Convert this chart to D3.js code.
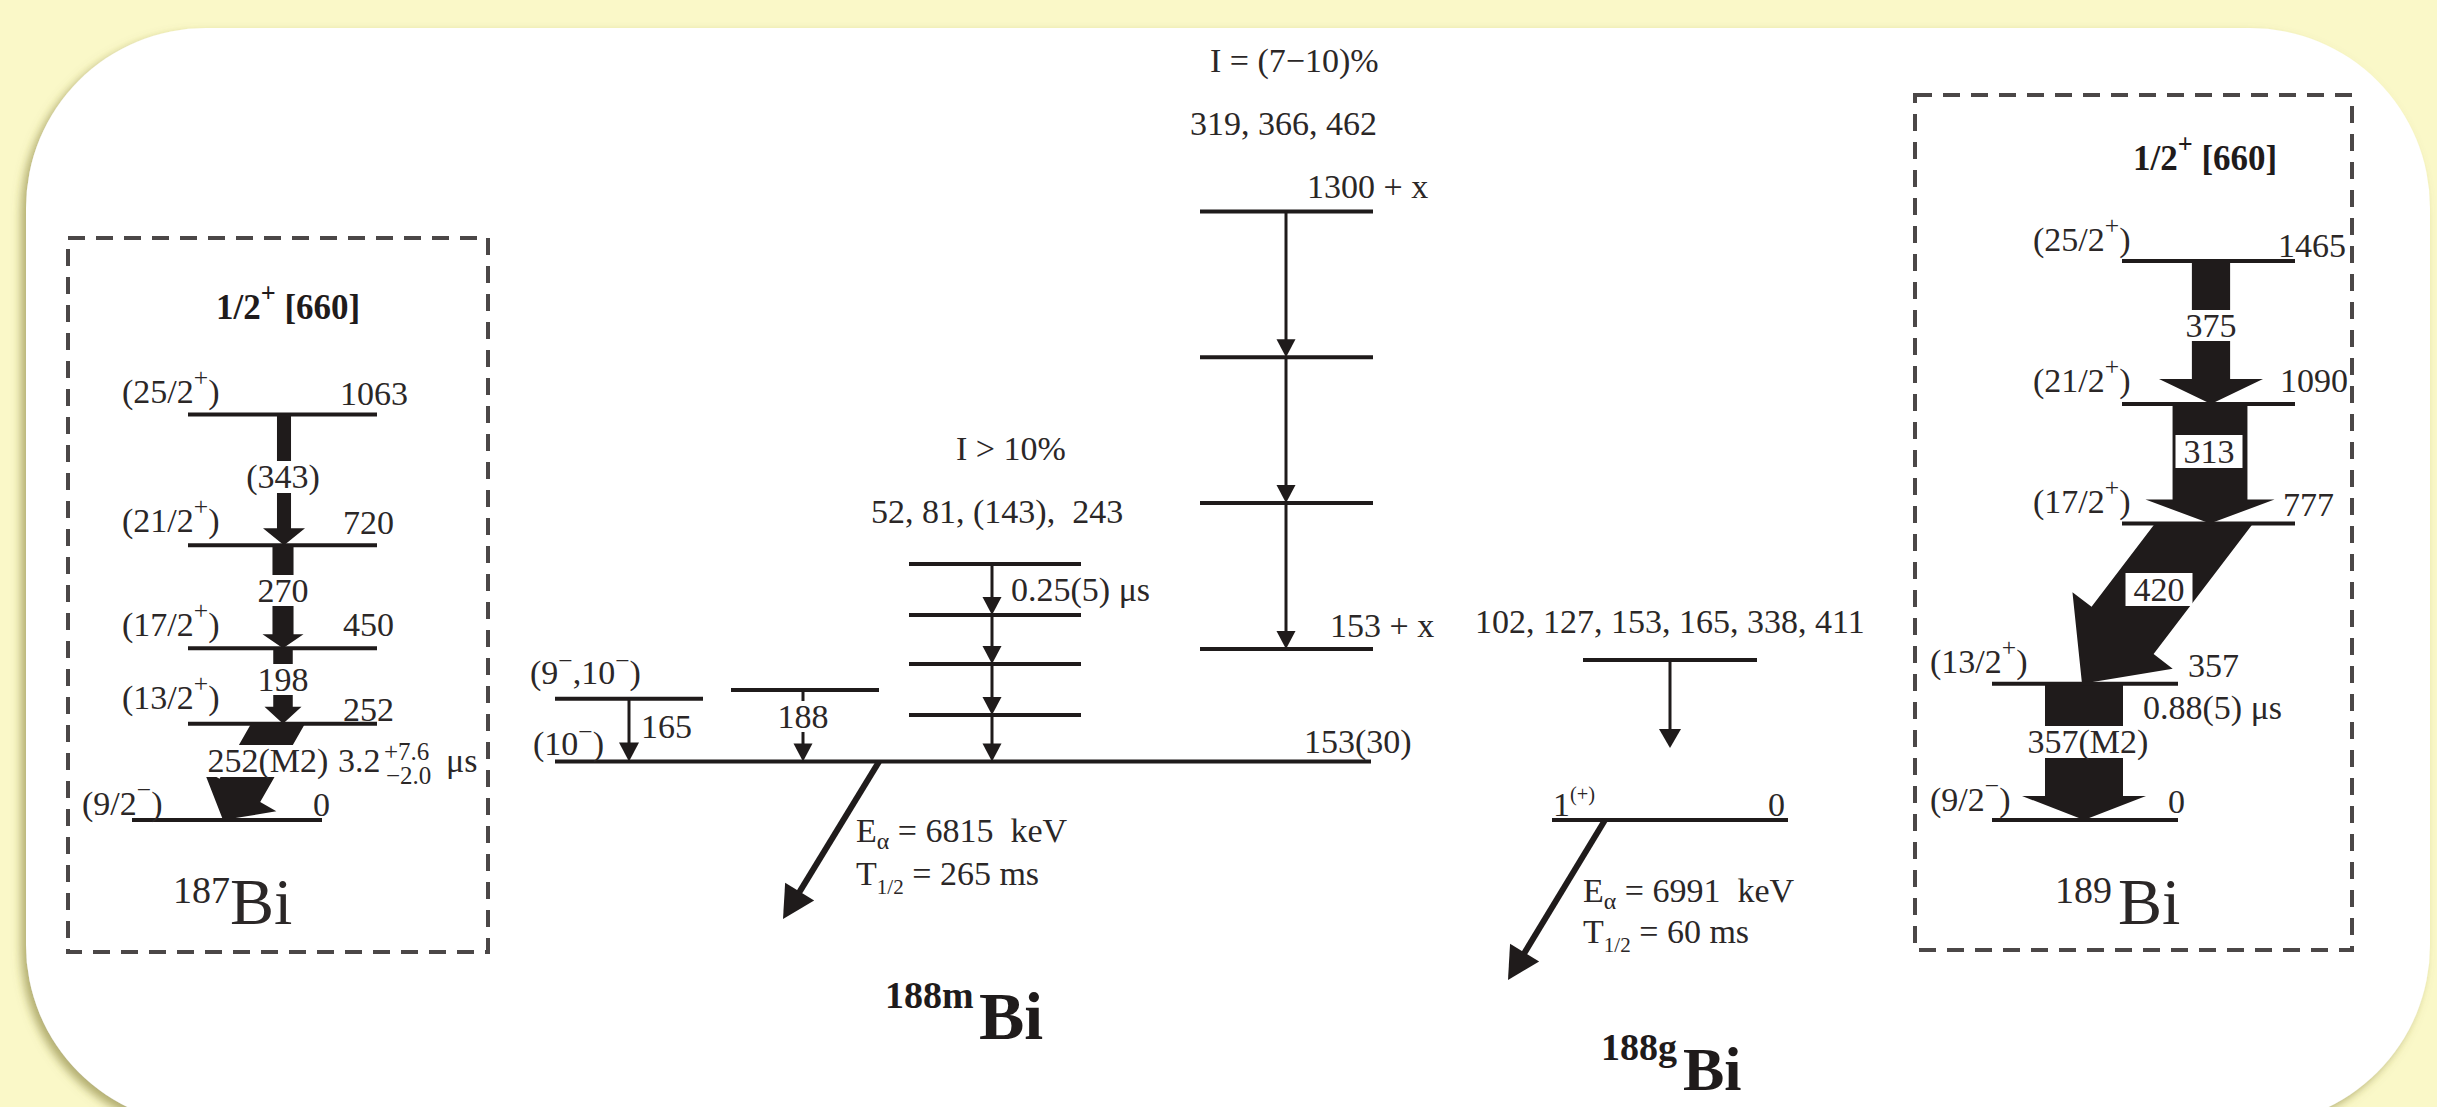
<!DOCTYPE html>
<html>
<head>
<meta charset="utf-8">
<script src="https://cdn.jsdelivr.net/npm/d3@7"></script>
<style>
  html, body { margin: 0; padding: 0; background: #faf8c8; }
  svg { display: block; }
  text { white-space: pre; }
</style>
</head>
<body>
<svg id="chart" width="2437" height="1107"></svg>
<script>
// ---------------- data ----------------
// 187Bi band built on the 1/2+[660] orbital (level energies in keV)
const bi187Energies = [1063, 720, 450, 252, 0];
const bi187Spins = ["(25/2^{+})", "(21/2^{+})", "(17/2^{+})", "(13/2^{+})", "(9/2^{−})"];
const bi187Gammas = [
  { from: 1063, to: 720, label: "(343)", I: 18 },
  { from: 720, to: 450, label: "270", I: 27 },
  { from: 450, to: 252, label: "198", I: 25 },
  { from: 252, to: 0, label: "252(M2)", I: 60 }
];

// 189Bi band built on the 1/2+[660] orbital
const bi189Energies = [1465, 1090, 777, 357, 0];
const bi189Spins = ["(25/2^{+})", "(21/2^{+})", "(17/2^{+})", "(13/2^{+})", "(9/2^{−})"];
const bi189Gammas = [
  { from: 1465, to: 1090, label: "375", I: 49 },
  { from: 1090, to: 777, label: "313", I: 96 },
  { from: 777, to: 357, label: "420", I: 100 },
  { from: 357, to: 0, label: "357(M2)", I: 100 }
];

// 188mBi: isomer at 153(30) keV and the structures feeding it (drawn energies, keV)
const m188Isomer = 153;
const m188SideLevels = [318, 341];            // (9-,10-) level (165 keV) and the 188 keV feeder
const m188SideGammas = [165, 188];
const m188CascadeA = [671, 537, 409, 275];    // 52, 81, (143), 243 group, I > 10%
const m188CascadeB = [1595, 1213, 831, 448];  // 1300 + x ... 153 + x, I = (7-10)%
const m188CascadeAGammas = "52, 81, (143),  243";
const m188CascadeBGammas = "319, 366, 462";

// 188gBi: 1(+) ground state and the unplaced transitions above it
const g188Levels = [419, 0];
const g188Gammas = "102, 127, 153, 165, 338, 411";

// alpha decays
const alphaDecays = [
  { name: "188m", Ealpha: 6815, T: "265 ms" },
  { name: "188g", Ealpha: 6991, T: "60 ms" }
];

// ---------------- setup ----------------
const W = 2437, H = 1107;
const FONT = "'Liberation Serif','Times New Roman',Times,serif";
const INK = "#1f1b1b";
const TEXT = "#2b2727";
const FS = 34;

const svg = d3.select("#chart");
const defs = svg.append("defs");
const f = defs.append("filter").attr("id", "panelShadow")
  .attr("x", "-5%").attr("y", "-5%").attr("width", "110%").attr("height", "115%");
f.append("feDropShadow").attr("dx", -5).attr("dy", 5).attr("stdDeviation", 5)
  .attr("flood-color", "#77712c").attr("flood-opacity", 0.55);

svg.append("rect").attr("width", W).attr("height", H).attr("fill", "#faf8c8");
svg.append("rect").attr("x", 26).attr("y", 28).attr("width", 2404).attr("height", 1097)
  .attr("rx", 180).attr("ry", 180).attr("fill", "#ffffff").attr("filter", "url(#panelShadow)");

// one energy scale shared by all schemes
const y = d3.scaleLinear().domain([0, 1465]).range([820, 261]);
// arrow shaft width from relative intensity
const wScale = d3.scaleLinear().domain([0, 100]).range([0, 78]);

const root = svg.append("g");

// ---------------- helpers ----------------
function addText(g, str, x, yy, size, opt = {}) {
  const t = g.append("text")
    .attr("x", x).attr("y", yy)
    .attr("font-family", FONT)
    .attr("font-size", size)
    .attr("font-weight", opt.weight || "normal")
    .attr("fill", opt.fill || TEXT)
    .attr("text-anchor", opt.anchor || "start");
  const supScale = opt.supScale || 0.66;
  const parts = str.split(/(\^\{[^}]*\}|_\{[^}]*\})/).filter(s => s.length);
  let off = 0;
  parts.forEach(p => {
    let target = 0, txt = p, fs = size;
    if (p.startsWith("^{")) { target = -size * (opt.supRise || 0.42); txt = p.slice(2, -1); fs = size * supScale; }
    else if (p.startsWith("_{")) { target = size * (opt.subDrop || 0.2); txt = p.slice(2, -1); fs = size * supScale; }
    t.append("tspan").attr("dy", target - off).attr("font-size", fs).text(txt.replace(/ {2}/g, " \u00a0"));
    off = target;
  });
  return t;
}

function backdrop(g, t, padX, padY) {
  const b = t.node().getBBox();
  const node = t.node();
  g.insert("rect", () => node)
    .attr("x", b.x - padX).attr("y", b.y - padY)
    .attr("width", b.width + 2 * padX).attr("height", b.height + 2 * padY)
    .attr("fill", "#ffffff");
}

function drawLevels(g, energies, spans) {
  g.selectAll(null).data(energies).join("line")
    .attr("x1", (d, i) => spans[i][0]).attr("x2", (d, i) => spans[i][1])
    .attr("y1", d => y(d)).attr("y2", d => y(d))
    .attr("stroke", INK).attr("stroke-width", 4);
}

// wide intensity arrow: shaft cut horizontally at the start level
function fatArrowPoints(x0, y0, x1, y1, w, hw, hl) {
  const dx = x1 - x0, dy = y1 - y0, len = Math.hypot(dx, dy);
  const ux = dx / len, uy = dy / len;
  const nx = -uy, ny = ux;
  const top = w / (2 * Math.abs(uy));
  const bx = x1 - ux * hl, by = y1 - uy * hl;
  return [
    [x0 - top, y0],
    [bx + nx * w / 2, by + ny * w / 2],
    [bx + nx * hw / 2, by + ny * hw / 2],
    [x1, y1],
    [bx - nx * hw / 2, by - ny * hw / 2],
    [bx - nx * w / 2, by - ny * w / 2],
    [x0 + top, y0]
  ];
}

function thinArrow(g, x0, y0, x1, y1, hw = 20, hl = 18, sw = 3) {
  const dx = x1 - x0, dy = y1 - y0, len = Math.hypot(dx, dy);
  const ux = dx / len, uy = dy / len, nx = -uy, ny = ux;
  const bx = x1 - ux * hl, by = y1 - uy * hl;
  g.append("line").attr("x1", x0).attr("y1", y0).attr("x2", bx + ux * 2).attr("y2", by + uy * 2)
    .attr("stroke", INK).attr("stroke-width", sw);
  g.append("polygon")
    .attr("points", [[x1, y1], [bx + nx * hw / 2, by + ny * hw / 2], [bx - nx * hw / 2, by - ny * hw / 2]].map(p => p.join(",")).join(" "))
    .attr("fill", INK);
}

function dashedBox(g, x0, y0, x1, y1) {
  g.append("path")
    .attr("d", `M${x0},${y0}H${x1}V${y1}H${x0}Z`)
    .attr("fill", "none").attr("stroke", "#4b4747").attr("stroke-width", 4)
    .attr("stroke-dasharray", "17 11");
}

// ---------------- 187Bi ----------------
(function () {
  const g = root.append("g");
  dashedBox(g, 68, 238, 488, 952);
  addText(g, "1/2^{+} [660]", 216, 319, FS + 1, { weight: "bold", fill: INK, supScale: 0.75, supRise: 0.48 });
  const spans = [[188, 377], [188, 377], [188, 377], [188, 377], [132, 322]];
  drawLevels(g, bi187Energies, spans);
  const spinX = [122, 122, 122, 122, 82], spinOff = [-11, -13, -12, -15, -5];
  const eX = [340, 343, 343, 343, 313], eOff = [-9, -11, -12, -3, -4];
  bi187Spins.forEach((s, i) => addText(g, s, spinX[i], y(bi187Energies[i]) + spinOff[i], FS, { supRise: 0.5, supScale: 0.75 }));
  bi187Energies.forEach((e, i) => addText(g, String(e), eX[i], y(e) + eOff[i], FS));

  const geo = {
    "(343)": { x0: 284, x1: 284, hw: 42, hl: 17, ly: 488, lx: 283 },
    "270": { x0: 283, x1: 283, hw: 41, hl: 14, ly: 602, lx: 283 },
    "198": { x0: 283, x1: 283, hw: 37, hl: 17, ly: 691, lx: 283 },
    "252(M2)": { x0: 278, x1: 223, hw: 84, hl: 34, ly: 772, lx: 268 }
  };
  bi187Gammas.forEach(d => {
    const o = geo[d.label];
    g.append("polygon")
      .attr("points", fatArrowPoints(o.x0, y(d.from), o.x1, y(d.to), wScale(d.I), o.hw, o.hl).map(p => p.join(",")).join(" "))
      .attr("fill", INK);
    const t = addText(g, d.label, o.lx, o.ly, FS, { anchor: "middle" });
    backdrop(g, t, 5, -3);
  });
  // lifetime of the 252 keV isomer
  addText(g, "3.2", 338, 772, FS);
  addText(g, "+7.6", 384, 760, 25);
  addText(g, "−2.0", 386, 784, 25);
  addText(g, "μs", 446, 772, FS);
  // nucleus label
  addText(g, "187", 173, 903, 38);
  addText(g, "Bi", 230, 924, 66);
})();

// ---------------- 189Bi ----------------
(function () {
  const g = root.append("g");
  dashedBox(g, 1915, 95, 2352, 950);
  addText(g, "1/2^{+} [660]", 2133, 170, FS + 1, { weight: "bold", fill: INK, supScale: 0.75, supRise: 0.48 });
  const spans = [[2122, 2295], [2122, 2295], [2122, 2295], [1992, 2178], [1992, 2178]];
  const spinX = [2033, 2033, 2033, 1930, 1930], spinOff = [-10, -12, -11, -11, -9];
  const eX = [2278, 2280, 2283, 2188, 2168], eOff = [-4, -12, -8, -7, -7];

  const geo = {
    "375": { x0: 2211, x1: 2211, hw: 104, hl: 25, lx: 2211, ly: 337, box: false },
    "313": { x0: 2210, x1: 2210, hw: 129, hl: 24, lx: 2209, ly: 463, box: true },
    "420": { x0: 2204, x1: 2082, hw: 126, hl: 67, lx: 2159, ly: 601, box: true },
    "357(M2)": { x0: 2084, x1: 2084, hw: 124, hl: 24, lx: 2088, ly: 753, box: false }
  };
  bi189Gammas.forEach(d => {
    const o = geo[d.label];
    g.append("polygon")
      .attr("points", fatArrowPoints(o.x0, y(d.from), o.x1, y(d.to), wScale(d.I), o.hw, o.hl).map(p => p.join(",")).join(" "))
      .attr("fill", INK);
  });
  drawLevels(g, bi189Energies, spans);
  bi189Gammas.forEach(d => {
    const o = geo[d.label];
    const t = addText(g, d.label, o.lx, o.ly, FS, { anchor: "middle" });
    if (o.box) backdrop(g, t, 8, -2); else backdrop(g, t, 2, -3);
  });
  bi189Spins.forEach((s, i) => addText(g, s, spinX[i], y(bi189Energies[i]) + spinOff[i], FS, { supRise: 0.5, supScale: 0.75 }));
  bi189Energies.forEach((e, i) => addText(g, String(e), eX[i], y(e) + eOff[i], FS));
  addText(g, "0.88(5) μs", 2143, 719, FS);
  addText(g, "189", 2055, 903, 38);
  addText(g, "Bi", 2118, 924, 66);
})();

// ---------------- 188mBi ----------------
(function () {
  const g = root.append("g");
  // isomer level
  drawLevels(g, [m188Isomer], [[555, 1371]]);
  addText(g, "153(30)", 1304, 753, FS);
  // side feeders
  drawLevels(g, m188SideLevels, [[555, 703], [731, 879]]);
  thinArrow(g, 629, y(m188SideLevels[0]), 629, y(m188Isomer), 20, 19);
  addText(g, "(9^{−},10^{−})", 530, 684, FS, { supRise: 0.45, supScale: 0.75 });
  addText(g, "(10^{−})", 533, 755, FS, { supRise: 0.45, supScale: 0.75 });
  addText(g, String(m188SideGammas[0]), 641, 738, FS);
  thinArrow(g, 803, y(m188SideLevels[1]), 803, y(m188Isomer), 19, 18);
  const t188 = addText(g, String(m188SideGammas[1]), 803, 728, FS, { anchor: "middle" });
  backdrop(g, t188, 2, -3);

  // cascade A
  drawLevels(g, m188CascadeA, m188CascadeA.map(() => [909, 1081]));
  const chainA = m188CascadeA.concat([m188Isomer]);
  d3.pairs(chainA).forEach(([a, b]) => thinArrow(g, 992, y(a), 992, y(b), 19, 18));
  addText(g, "I > 10%", 956, 460, FS);
  addText(g, m188CascadeAGammas, 871, 523, FS);
  addText(g, "0.25(5) μs", 1011, 601, FS);

  // cascade B
  drawLevels(g, m188CascadeB, m188CascadeB.map(() => [1200, 1373]));
  d3.pairs(m188CascadeB).forEach(([a, b]) => thinArrow(g, 1286, y(a), 1286, y(b), 19, 18));
  addText(g, "I = (7−10)%", 1210, 72, FS);
  addText(g, m188CascadeBGammas, 1190, 135, FS);
  addText(g, "1300 + x", 1307, 198, FS);
  addText(g, "153 + x", 1330, 637, FS);

  // alpha decay
  const a = alphaDecays[0];
  thinArrow(g, 879, y(m188Isomer), 783, 919, 34, 32, 6);
  addText(g, "E_{α} = " + a.Ealpha + "  keV", 856, 842, FS, { subDrop: 0.22, supScale: 0.7 });
  addText(g, "T_{1/2} = " + a.T, 856, 885, FS, { subDrop: 0.25, supScale: 0.62 });
  addText(g, a.name, 885, 1008, 38, { weight: "bold", fill: INK });
  addText(g, "Bi", 979, 1039, 68, { weight: "bold", fill: INK });
})();

// ---------------- 188gBi ----------------
(function () {
  const g = root.append("g");
  drawLevels(g, g188Levels, [[1583, 1757], [1552, 1788]]);
  addText(g, g188Gammas, 1475, 633, FS);
  thinArrow(g, 1670, y(g188Levels[0]), 1670, 748, 22, 19);
  addText(g, "1^{(+)}", 1553, 816, FS, { supScale: 0.6, supRise: 0.45 });
  addText(g, "0", 1768, 816, FS);
  const a = alphaDecays[1];
  thinArrow(g, 1605, y(0), 1508, 980, 34, 32, 6);
  addText(g, "E_{α} = " + a.Ealpha + "  keV", 1583, 902, FS, { subDrop: 0.22, supScale: 0.7 });
  addText(g, "T_{1/2} = " + a.T, 1583, 943, FS, { subDrop: 0.25, supScale: 0.62 });
  addText(g, a.name, 1601, 1060, 38, { weight: "bold", fill: INK });
  addText(g, "Bi", 1683, 1090, 62, { weight: "bold", fill: INK });
})();
</script>
</body>
</html>
